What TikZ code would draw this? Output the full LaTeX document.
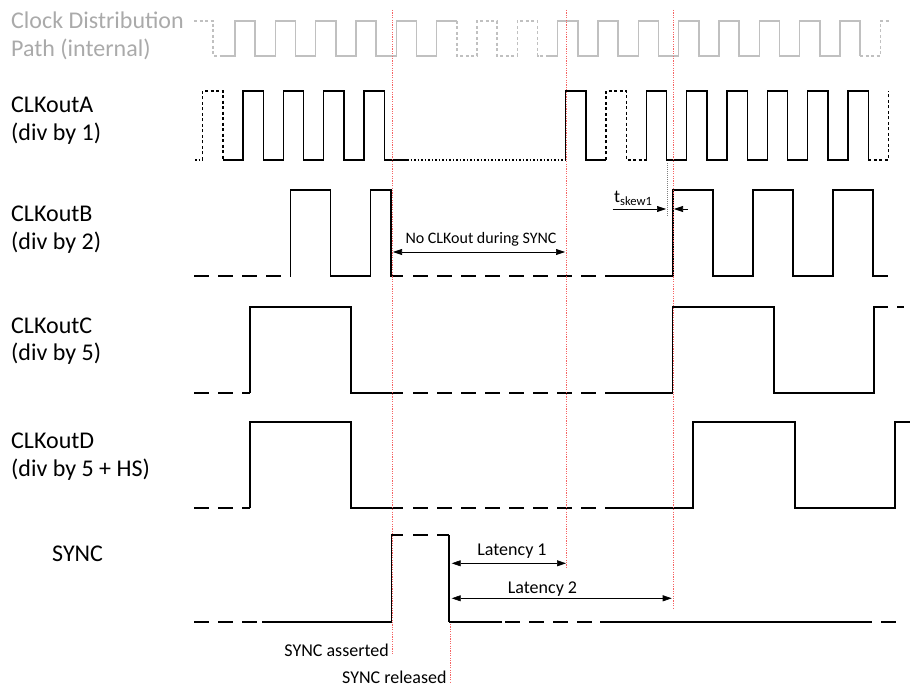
\documentclass[tikz,border=0pt]{standalone}
\usepackage{fontspec}
\setmainfont{Carlito}
\usetikzlibrary{arrows.meta}

\definecolor{mkred}{RGB}{245,100,100}
\definecolor{pathgray}{RGB}{192,192,192}
\definecolor{labelgray}{RGB}{170,170,170}

\begin{document}
\begin{tikzpicture}[
        x=1pt, y=-1pt,
        >={Triangle[length=9pt,width=6pt]},
        wave/.style={line width=1.5pt, line join=miter},
        longdash/.style={wave, dash pattern=on 15pt off 9pt},
        shortdash/.style={wave, dash pattern=on 3pt off 2.5pt},
        dotwave/.style={wave, dash pattern=on 1.5pt off 2pt},
        clkpath/.style={line width=1.5pt, pathgray},
        marker/.style={mkred, dash pattern=on 1.2pt off 1.2pt, line width=1pt},
        dim/.style={line width=0.6pt},
        sig/.style={font=\fontsize{24}{28}\selectfont, align=left, anchor=base west, inner sep=0pt},
        note/.style={font=\fontsize{18}{20}\selectfont, inner sep=0pt}
    ]
        \useasboundingbox (0,0) rectangle (914,687);
        \def\per{40.33}

        % signal names (base = last line)
        \node[sig, labelgray] (dist) at (11,57) {Clock Distribution\\Path (internal)};
        \node[sig] (outa) at (11,141) {CLKoutA\\(div by 1)};
        \node[sig] (outb) at (11,250) {CLKoutB\\(div by 2)};
        \node[sig] (outc) at (11,361) {CLKoutC\\(div by 5)};
        \node[sig] (outd) at (11,476) {CLKoutD\\(div by 5 + HS)};
        \node[sig] (sync) at (52,561) {SYNC};

        % internal clock
        \draw[clkpath, dash pattern=on 3pt off 2.5pt] (194,21) -- (213,21) -- (213,56) -- (221,56);
        \draw[clkpath] (221,56) \foreach \k in {0,...,4} {-- ({235+\k*\per},56) -- ({235+\k*\per},21) -- ({255.2+\k*\per},21) -- ({255.2+\k*\per},56)} -- (436.7,56) -- (436.7,21) -- (456.8,21);
        \draw[clkpath, dash pattern=on 3pt off 2.5pt] (456.8,21) -- (456.8,56) -- (477,56) -- (477,21) -- (497.2,21) -- (497.2,56) -- (517.3,56) -- (517.3,21) -- (537.5,21) -- (537.5,56) -- (547,56);
        \draw[clkpath] (547,56) \foreach \k in {8,...,15} {-- ({235+\k*\per},56) -- ({235+\k*\per},21) -- ({255.2+\k*\per},21) -- ({255.2+\k*\per},56)};
        \draw[clkpath, dash pattern=on 3pt off 2.5pt] (860.2,56) -- (880.3,56) -- (880.3,21) -- (889,21);

        % CLKoutA
        \draw[dotwave] (195,160) -- (202.7,160);
        \draw[shortdash] (202.7,160) -- (202.7,91) -- (223.1,91) -- (223.1,160);
        \draw[wave] (223.1,160) \foreach \k in {0,...,3} {-- ({243+\k*\per},160) -- ({243+\k*\per},91) -- ({263.4+\k*\per},91) -- ({263.4+\k*\per},160)} -- (407,160);
        \draw[dotwave] (407,160) -- (565.6,160);
        \draw[wave] (565.6,160) -- (565.6,91) -- (586,91) -- (586,160) -- (606,160);
        \draw[shortdash] (606,160) -- (606,91) -- (626.4,91) -- (626.4,160) -- (646.3,160);
        \draw[wave] (646.3,160) \foreach \k in {10,...,15} {-- ({243+\k*\per},160) -- ({243+\k*\per},91) -- ({263.4+\k*\per},91) -- ({263.4+\k*\per},160)};
        \draw[shortdash] (868.4,160) -- (888.3,160) -- (888.3,91);

        % CLKoutB
        \draw[longdash] (194,276) -- (290.7,276);
        \draw[wave] (290.7,276) -- (290.7,190) -- (330.7,190) -- (330.7,276) -- (370.7,276) -- (370.7,190) -- (391,190) -- (391,276) -- (403,276);
        \draw[longdash] (413,276) -- (605,276);
        \draw[wave] (605,276) -- (673,276) -- (673,190) -- (713,190) -- (713,276) -- (753,276) -- (753,190) -- (793,190) -- (793,276) -- (833,276) -- (833,190) -- (873,190) -- (873,276) -- (888,276);

        % CLKoutC
        \draw[longdash] (194,393) -- (250,393);
        \draw[wave] (250,393) -- (250,307) -- (351,307) -- (351,393) -- (403,393);
        \draw[longdash] (413,393) -- (605,393);
        \draw[wave] (605,393) -- (672.7,393) -- (672.7,307) -- (774,307) -- (774,393) -- (874,393) -- (874,307) -- (888,307);
        \draw[wave] (897,307) -- (904,307);

        % CLKoutD
        \draw[longdash] (194,508) -- (250,508);
        \draw[wave] (250,508) -- (250,422) -- (351,422) -- (351,508) -- (403,508);
        \draw[longdash] (413,508) -- (605,508);
        \draw[wave] (605,508) -- (693,508) -- (693,422) -- (795,422) -- (795,508) -- (895,508) -- (895,422) -- (910,422);

        % SYNC
        \draw[longdash] (194,622) -- (262,622);
        \draw[wave] (262,622) -- (391.7,622) -- (391.7,535) -- (403,535);
        \draw[longdash] (413,535) -- (449.3,535);
        \draw[wave, line width=2.2pt] (449.3,535) -- (449.3,622);
        \draw[wave] (449.3,622) -- (502,622);
        \draw[longdash] (505,622) -- (600,622);
        \draw[wave] (600,622) -- (857,622);
        \draw[longdash] (857,622) -- (897,622);

        % markers
        \coordinate (asrt-t) at (392,10);
        \coordinate (asrt-b) at (392,654);
        \coordinate (rel-t) at (450,624);
        \coordinate (rel-b) at (450,683);
        \coordinate (lat1-t) at (566,10);
        \coordinate (lat1-b) at (566,567);
        \coordinate (lat2-t) at (673,10);
        \coordinate (lat2-b) at (673,609);
        \coordinate (skew-t) at (667,163);
        \coordinate (skew-b) at (667,217);
        \draw[marker] (asrt-t) -- (asrt-b);
        \draw[marker] (rel-t) -- (rel-b);
        \draw[marker] (lat1-t) -- (lat1-b);
        \draw[marker] (lat2-t) -- (lat2-b);
        \draw[gray, dash pattern=on 1pt off 1pt, line width=0.8pt] (skew-t) -- (skew-b);

        % dimensions
        \coordinate (nc-l) at (393,252);
        \coordinate (nc-r) at (565,252);
        \draw[dim, <->] (nc-l) -- (nc-r);
        \node[note, font=\fontsize{16}{18}\selectfont, anchor=base] (nocl) at (481,244) {No CLKout during SYNC};

        \coordinate (sk-a) at (612.7,209);
        \coordinate (sk-b) at (666,209);
        \coordinate (sk-c) at (688,209);
        \coordinate (sk-d) at (674,209);
        \draw[dim, ->] (sk-a) -- (sk-b);
        \draw[dim, ->] (sk-c) -- (sk-d);
        \node[note, anchor=base west] (skew) at (614,203) {t\textsubscript{skew1}};

        \coordinate (l1-a) at (451.7,563.3);
        \coordinate (l1-b) at (566,563.3);
        \coordinate (l2-a) at (451.7,598.3);
        \coordinate (l2-b) at (671.7,598.3);
        \draw[dim, <->] (l1-a) -- (l1-b);
        \draw[dim, <->] (l2-a) -- (l2-b);
        \node[note, anchor=base] (lat1) at (512,555) {Latency 1};
        \node[note, anchor=base] (lat2) at (542.5,593) {Latency 2};

        \node[note, anchor=base east] (asrt) at (389,656) {SYNC asserted};
        \node[note, anchor=base west] (rel) at (342,683) {SYNC released};
    \end{tikzpicture}
\end{document}
